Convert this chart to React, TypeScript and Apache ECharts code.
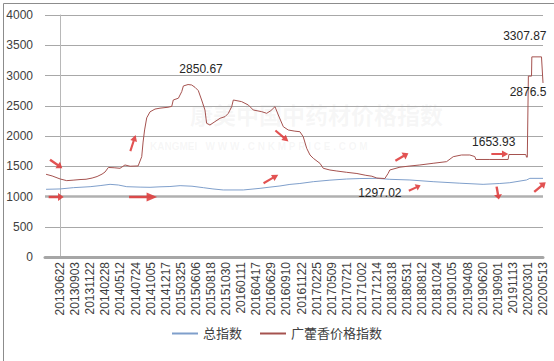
import React, { useEffect, useRef } from 'react';
import * as echarts from 'echarts';

const xLabels = [
  '20130622', '20130903', '20131122', '20140228', '20140512', '20140724', '20141005', '20141217',
  '20150325', '20150606', '20150818', '20151030', '20160111', '20160417', '20160629', '20160910',
  '20161122', '20170225', '20170509', '20170721', '20171002', '20171214', '20180318', '20180531',
  '20180812', '20181024', '20190105', '20190408', '20190620', '20190901', '20191113', '20200301',
  '20200513',
];

// position along the date axis (label index units) and value of 广藿香价格指数
const priceX = [
  -0.93, -0.53, 0, 0.44, 0.86, 1.32, 1.72, 2.12, 2.45, 2.78, 2.98, 3.2, 3.58, 3.97, 4.3, 4.64,
  5.17, 5.41, 5.5, 5.6, 5.74, 5.96, 6.29, 6.62, 7.15, 7.4, 7.5, 7.84, 8.06, 8.17, 8.48, 8.72,
  8.94, 9.16, 9.38, 9.6, 9.71, 9.93, 10.26, 10.6, 10.93, 11.15, 11.37, 11.48, 12.03, 12.47, 12.8,
  13.36, 13.69, 13.97, 14.24, 14.46, 14.79, 15.12, 15.56, 15.89, 16.11, 16.34, 16.56, 16.78,
  17.22, 17.44, 17.88, 18.34, 18.99, 19.67, 20.26, 20.66, 20.99, 21.52, 21.74, 21.85, 22.52,
  23.18, 23.84, 24.72, 25.61, 26.05, 26.6, 27.15, 27.48, 27.55, 28.48, 29.69, 29.74, 30.86,
  30.91, 30.96, 31.03, 31.24, 31.26, 31.9, 32.0,
];
const priceVal = [
  1367, 1340, 1290, 1262, 1270, 1280, 1285, 1305, 1330, 1370, 1405, 1480, 1475, 1466, 1521, 1500,
  1505, 1658, 1900, 2100, 2300, 2400, 2445, 2460, 2475, 2490, 2595, 2625, 2733, 2827, 2850.67, 2843,
  2805, 2750, 2595, 2430, 2210, 2182, 2237, 2293, 2320, 2375, 2485, 2595, 2568, 2513, 2430,
  2402, 2375, 2420, 2485, 2347, 2154, 2099, 2080, 2071, 1989, 1797, 1686, 1631,
  1548, 1466, 1438, 1421, 1400, 1380, 1350, 1335, 1305, 1297.02, 1383, 1438, 1485,
  1504, 1521, 1549, 1576, 1658, 1686, 1686, 1660, 1612, 1612, 1612, 1694, 1694,
  1650, 1650, 2990, 2990, 3307.87, 3307.87, 2876.5,
];

// 总指数
const totalX = [
  -0.93, 0, 0.88, 1.99, 2.65, 3.31, 3.86, 4.42, 5.3, 5.96, 6.62, 7.28, 7.95, 8.74, 9.49, 10.13,
  10.81, 12.14, 13.25, 13.91, 14.57, 15.23, 15.89, 16.78, 17.88, 18.99, 19.87, 20.99, 21.85,
  23.18, 24.72, 26.49, 28.03, 29.14, 29.8, 30.91, 31.13, 32.0,
];
const totalVal = [
  1119, 1125, 1146, 1162, 1180, 1201, 1190, 1162, 1155, 1152, 1160, 1165, 1179, 1170, 1146, 1125,
  1108, 1108, 1135, 1155, 1174, 1200, 1215, 1245, 1270, 1289, 1297, 1300, 1284,
  1273, 1245, 1220, 1201, 1215, 1228, 1273, 1300, 1300,
];

// value annotations: [x, y, text]
const annotations: [number, number, string][] = [
  [8.48, 2850.67, '2850.67'],
  [21.52, 1297.02, '1297.02'],
  [29.0, 1612, '1653.93'],
  [31.26, 3307.87, '3307.87'],
  [32.0, 2876.5, '2876.5'],
];
const annotationOffsets = [[13, -16], [-5, 14], [-4, -17], [-7, -21], [-15, 9]];

// decorative arrows: [x, y, angle]
const arrows: [number, number, number][] = [
  [-0.26, 1537, -35],
  [-0.26, 992, 0],
  [4.83, 1884, 72],
  [5.5, 992, 0],
  [13.97, 1289, 30],
  [14.7, 2000, -40],
  [22.65, 1653, 30],
  [23.5, 1140, 25],
  [29.14, 1703, 0],
  [29.0, 1058, -80],
  [31.8, 1157, 40],
  [32.3, 3075, -95],
];
const arrowSizes = [[15, 8], [15, 8], [17, 7], [28, 9], [17, 7], [17, 7], [15, 8], [13, 7], [17, 7], [13, 8], [15, 8], [13, 8]];

const FONT = '"Liberation Sans", "Noto Sans CJK SC", sans-serif';
const ARROW = 'path://M0,3.5 L10,3.5 L10,0 L16,5 L10,10 L10,6.5 L0,6.5 Z';

export default function App() {
  const ref = useRef<HTMLDivElement>(null);
  useEffect(() => {
    if (!ref.current) return;
    const chart = echarts.init(ref.current, undefined, { renderer: 'svg' });
    const priceData = priceX.map((x, i) => [x, priceVal[i]]);
    const totalData = totalX.map((x, i) => [x, totalVal[i]]);
    chart.setOption({
      animation: false,
      backgroundColor: '#ffffff',
      textStyle: { fontFamily: FONT },
      grid: { left: 45, right: 11, top: 15, bottom: 104 },
      graphic: [
        {
          type: 'rect', left: 1, top: 1, silent: true,
          shape: { x: 0, y: 0, width: 551, height: 358 },
          style: { fill: 'none', stroke: '#8c8c8c', lineWidth: 1 },
        },
        {
          type: 'text', left: 190, top: 104, silent: true, z: 0,
          style: { text: '康美中国中药材价格指数', fontSize: 23, fontWeight: 'bold', fill: 'rgba(190,190,190,0.13)', fontFamily: FONT },
        },
        {
          type: 'text', left: 150, top: 141, silent: true, z: 0,
          style: { text: 'KANGMEI   W W W . C N K M P R I C E . C O M', fontSize: 10, fontWeight: 'bold', fill: 'rgba(190,190,190,0.13)', fontFamily: FONT },
        },
      ],
      legend: {
        bottom: 16, left: 'center', itemWidth: 26, itemHeight: 2, itemGap: 18,
        textStyle: { fontSize: 13, color: '#404040', fontFamily: FONT },
        data: [
          { name: '总指数', icon: 'rect' },
          { name: '广藿香价格指数', icon: 'rect' },
        ],
      },
      xAxis: {
        type: 'value', min: -1, max: 32, interval: 1,
        axisLine: { show: true, lineStyle: { color: '#a6a6a6', width: 3 } },
        axisTick: { show: false },
        splitLine: { show: false },
        axisLabel: {
          rotate: 90, margin: 5, fontSize: 12, color: '#404040', fontFamily: FONT,
          formatter: (v: number) => xLabels[Math.round(v)] ?? '',
        },
      },
      yAxis: {
        type: 'value', min: 0, max: 4000, interval: 500,
        axisLine: { show: true, lineStyle: { color: '#b8b8b8', width: 1 } },
        axisTick: { show: false },
        splitLine: { show: true, lineStyle: { color: '#a8a8a8', width: 1 } },
        axisLabel: {
          margin: 12, fontSize: 12, color: '#404040', fontFamily: FONT,
          formatter: (v: number) => String(v),
        },
      },
      series: [
        {
          name: '总指数', type: 'line', symbol: 'none', data: totalData,
          lineStyle: { color: '#7f9fcb', width: 1 }, itemStyle: { color: '#7f9fcb' },
          markLine: {
            silent: true, symbol: 'none', label: { show: false },
            lineStyle: { color: '#b0b0b0', width: 2.5, type: 'solid' },
            data: [{ yAxis: 1000 }],
          },
        },
        {
          name: '广藿香价格指数', type: 'line', symbol: 'none', data: priceData,
          lineStyle: { color: '#a5524f', width: 1 }, itemStyle: { color: '#a5524f' },
          markPoint: {
            silent: true,
            data: [
              ...annotations.map((a, i) => ({
                coord: [a[0], a[1]], symbol: 'circle', symbolSize: 0,
                label: {
                  show: true, position: 'inside', formatter: a[2], offset: annotationOffsets[i],
                  fontSize: 12, color: '#262626', fontFamily: FONT,
                },
              })),
              ...arrows.map((a, i) => ({
                coord: [a[0], a[1]], symbol: ARROW, symbolSize: arrowSizes[i], symbolRotate: a[2],
                symbolKeepAspect: false,
                itemStyle: { color: 'rgba(222,58,58,0.88)' },
                label: { show: false },
              })),
            ],
          },
        },
      ],
    });
    return () => chart.dispose();
  }, []);
  return <div ref={ref} style={{ position: 'absolute', left: 0, top: 0, width: 554, height: 361 }} />;
}
